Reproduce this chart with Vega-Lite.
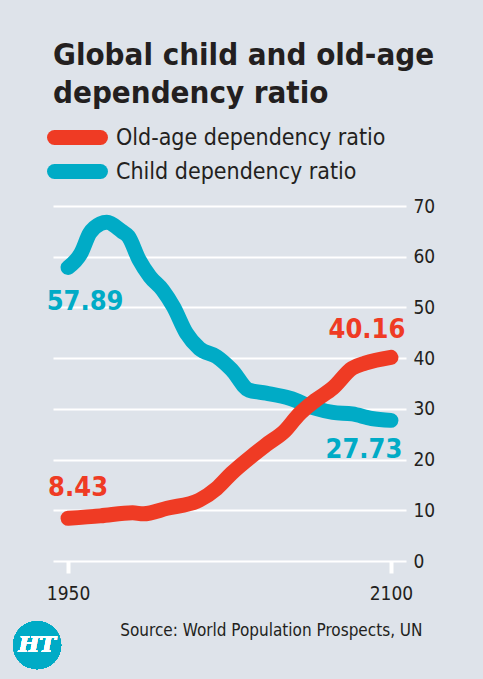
{
  "$schema": "https://vega.github.io/schema/vega-lite/v6.json",
  "width": 353,
  "height": 355,
  "autosize": {"type": "none"},
  "padding": {"left": 53, "top": 206, "right": 77, "bottom": 118},
  "background": "#dee3ea",
  "title": {
    "text": ["Global child and old-age", "dependency ratio"],
    "anchor": "start",
    "frame": "group",
    "font": "DejaVu Sans Condensed",
    "fontWeight": "bold",
    "fontSize": 31,
    "lineHeight": 38,
    "color": "#231f20",
    "offset": 14
  },
  "config": {
    "view": {"stroke": null},
    "axis": {"labelFont": "DejaVu Sans Condensed", "labelColor": "#231f20", "titleFont": "DejaVu Sans Condensed", "titleColor": "#231f20"}
  },
  "data": {
    "values": [
      {"year": 1950, "value": 57.89, "series": "Child dependency ratio"},
      {"year": 1956, "value": 60.7, "series": "Child dependency ratio"},
      {"year": 1960, "value": 64.6, "series": "Child dependency ratio"},
      {"year": 1965, "value": 66.5, "series": "Child dependency ratio"},
      {"year": 1968, "value": 66.8, "series": "Child dependency ratio"},
      {"year": 1975, "value": 65.0, "series": "Child dependency ratio"},
      {"year": 1978, "value": 64.0, "series": "Child dependency ratio"},
      {"year": 1983, "value": 59.4, "series": "Child dependency ratio"},
      {"year": 1988, "value": 56.1, "series": "Child dependency ratio"},
      {"year": 1994, "value": 53.4, "series": "Child dependency ratio"},
      {"year": 1999, "value": 50.1, "series": "Child dependency ratio"},
      {"year": 2005, "value": 44.9, "series": "Child dependency ratio"},
      {"year": 2011, "value": 41.9, "series": "Child dependency ratio"},
      {"year": 2019, "value": 40.3, "series": "Child dependency ratio"},
      {"year": 2026, "value": 37.7, "series": "Child dependency ratio"},
      {"year": 2034, "value": 33.7, "series": "Child dependency ratio"},
      {"year": 2042, "value": 33.1, "series": "Child dependency ratio"},
      {"year": 2053, "value": 32.1, "series": "Child dependency ratio"},
      {"year": 2065, "value": 30.1, "series": "Child dependency ratio"},
      {"year": 2073, "value": 29.3, "series": "Child dependency ratio"},
      {"year": 2082, "value": 29.0, "series": "Child dependency ratio"},
      {"year": 2091, "value": 28.1, "series": "Child dependency ratio"},
      {"year": 2100, "value": 27.73, "series": "Child dependency ratio"},
      {"year": 1950, "value": 8.43, "series": "Old-age dependency ratio"},
      {"year": 1965, "value": 8.9, "series": "Old-age dependency ratio"},
      {"year": 1980, "value": 9.5, "series": "Old-age dependency ratio"},
      {"year": 1985, "value": 9.3, "series": "Old-age dependency ratio"},
      {"year": 1996, "value": 10.4, "series": "Old-age dependency ratio"},
      {"year": 2011, "value": 12.0, "series": "Old-age dependency ratio"},
      {"year": 2019, "value": 14.3, "series": "Old-age dependency ratio"},
      {"year": 2026, "value": 17.3, "series": "Old-age dependency ratio"},
      {"year": 2036, "value": 20.9, "series": "Old-age dependency ratio"},
      {"year": 2042, "value": 22.9, "series": "Old-age dependency ratio"},
      {"year": 2051, "value": 25.8, "series": "Old-age dependency ratio"},
      {"year": 2057, "value": 28.8, "series": "Old-age dependency ratio"},
      {"year": 2065, "value": 31.7, "series": "Old-age dependency ratio"},
      {"year": 2073, "value": 34.1, "series": "Old-age dependency ratio"},
      {"year": 2082, "value": 38.0, "series": "Old-age dependency ratio"},
      {"year": 2088, "value": 39.0, "series": "Old-age dependency ratio"},
      {"year": 2100, "value": 40.16, "series": "Old-age dependency ratio"}
    ]
  },
  "encoding": {
    "x": {
      "field": "year", "type": "quantitative",
      "scale": {"domain": [1943, 2107], "nice": false, "zero": false},
      "axis": {
        "values": [1950, 2100], "format": "d", "domain": false, "grid": false,
        "ticks": true, "tickColor": "#ffffff", "tickWidth": 4, "tickSize": 12,
        "labelFontSize": 19, "labelPadding": 11,
        "title": "Source: World Population Prospects, UN",
        "titleFontSize": 17, "titleFontWeight": "normal",
        "titleAlign": "right", "titleBaseline": "alphabetic",
        "titleX": 369, "titleY": 74
      }
    },
    "y": {
      "field": "value", "type": "quantitative",
      "scale": {"domain": [0, 70], "nice": false},
      "axis": {
        "orient": "right", "values": [0, 10, 20, 30, 40, 50, 60, 70],
        "domain": false, "ticks": false, "grid": true,
        "gridColor": "#ffffff", "gridWidth": 2, "gridOpacity": 1,
        "labelFontSize": 19, "labelPadding": 7, "title": null
      }
    }
  },
  "layer": [
    {
      "transform": [
        {"filter": "datum.year == 1950 || datum.year == 2100"},
        {"aggregate": [{"op": "max", "field": "value", "as": "top"}], "groupby": ["year"]}
      ],
      "mark": {"type": "rule", "color": "#ffffff", "strokeWidth": 4},
      "encoding": {
        "y": {"datum": 0},
        "y2": {"field": "top"}
      }
    },
    {
      "mark": {"type": "line", "strokeWidth": 15, "strokeCap": "round", "strokeJoin": "round", "interpolate": "monotone"},
      "encoding": {
        "color": {
          "field": "series", "type": "nominal",
          "scale": {"domain": ["Old-age dependency ratio", "Child dependency ratio"], "range": ["#ef3b24", "#00abc6"]},
          "legend": {
            "orient": "none", "legendX": -6, "legendY": -82, "title": null,
            "symbolType": "M -4 0 L 4 0", "symbolStrokeWidth": 15, "symbolSize": 132,
            "symbolOffset": 17,
            "clipHeight": 27,
            "labelFont": "DejaVu Sans Condensed", "labelFontSize": 23, "labelColor": "#231f20",
            "labelLimit": 400, "labelOffset": 25, "rowPadding": 7,
            "encoding": {"symbols": {"strokeCap": {"value": "round"}}}
          }
        }
      }
    },
    {
      "transform": [{"filter": "datum.year == 1950 && datum.series == 'Child dependency ratio'"}],
      "mark": {"type": "text", "font": "DejaVu Sans Condensed", "fontWeight": "bold", "fontSize": 27, "align": "center", "baseline": "middle", "dx": 17, "dy": 35, "color": "#00abc6"},
      "encoding": {"text": {"field": "value", "type": "quantitative", "format": ".2f"}}
    },
    {
      "transform": [{"filter": "datum.year == 2100 && datum.series == 'Child dependency ratio'"}],
      "mark": {"type": "text", "font": "DejaVu Sans Condensed", "fontWeight": "bold", "fontSize": 27, "align": "center", "baseline": "middle", "dx": -27, "dy": 30, "color": "#00abc6"},
      "encoding": {"text": {"field": "value", "type": "quantitative", "format": ".2f"}}
    },
    {
      "transform": [{"filter": "datum.year == 1950 && datum.series == 'Old-age dependency ratio'"}],
      "mark": {"type": "text", "font": "DejaVu Sans Condensed", "fontWeight": "bold", "fontSize": 27, "align": "center", "baseline": "middle", "dx": 10, "dy": -30, "color": "#ef3b24"},
      "encoding": {"text": {"field": "value", "type": "quantitative", "format": ".2f"}}
    },
    {
      "transform": [{"filter": "datum.year == 2100 && datum.series == 'Old-age dependency ratio'"}],
      "mark": {"type": "text", "font": "DejaVu Sans Condensed", "fontWeight": "bold", "fontSize": 27, "align": "center", "baseline": "middle", "dx": -24, "dy": -27, "color": "#ef3b24"},
      "encoding": {"text": {"field": "value", "type": "quantitative", "format": ".2f"}}
    },
    {
      "mark": {"type": "point", "filled": true, "shape": "circle", "size": 2304, "color": "#00abc6", "opacity": 1},
      "encoding": {"x": {"datum": 1935.6}, "y": {"datum": -16.6}}
    },
    {
      "mark": {"type": "text", "text": "HT", "font": "DejaVu Serif", "fontWeight": "bold", "fontStyle": "italic", "fontSize": 22, "color": "#ffffff", "align": "center", "baseline": "middle"},
      "encoding": {"x": {"datum": 1935.6}, "y": {"datum": -16.6}}
    }
  ]
}
